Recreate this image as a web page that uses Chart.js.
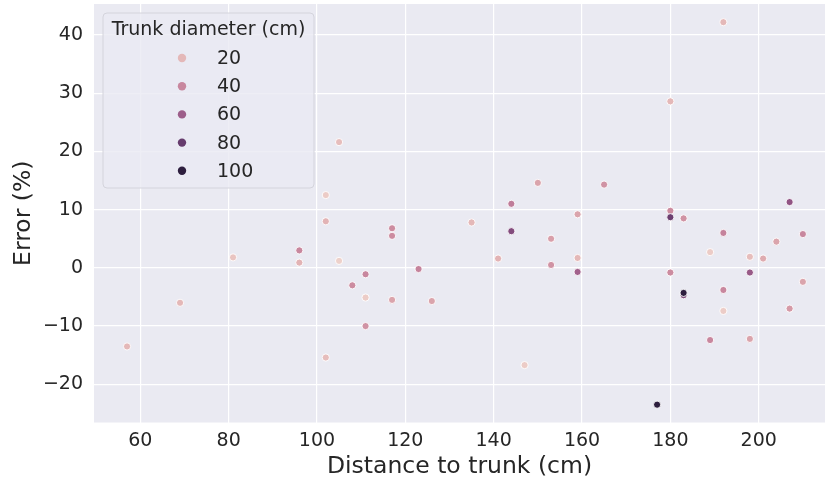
<!DOCTYPE html>
<html>
<head>
<meta charset="utf-8">
<script src="https://cdn.jsdelivr.net/npm/chart.js@4"></script>
<style>
  html, body { margin: 0; padding: 0; background: #fff; }
  #wrap { width: 825px; height: 483px; }
</style>
</head>
<body>
<div id="wrap"><canvas id="chart" width="825" height="483"></canvas></div>
<script>
// data
var distance = [57, 69, 81, 96, 96, 102, 102, 102, 105, 105, 108, 111, 111, 111, 117, 117, 117, 123, 126, 135,
                141, 144, 144, 147, 150, 153, 153, 159, 159, 159, 165, 177, 180, 180, 180, 180, 183, 183, 183, 189,
                189, 192, 192, 192, 192, 198, 198, 198, 201, 204, 207, 207, 210, 210];
var error    = [-13.5, -6, 1.8, 3, 0.9, 12.5, 8, -15.4, 21.6, 1.2, -3, -1.1, -5.1, -10, 6.8, 5.5, -5.5, -0.2, -5.7, 7.8,
                1.6, 11, 6.3, -16.7, 14.6, 5, 0.5, 9.2, 1.7, -0.7, 14.3, -23.5, 28.6, 9.8, 8.7, -0.8, 8.5, -4.7, -4.3, 2.7,
                -12.4, 42.2, 6, -3.8, -7.4, 1.9, -0.8, -12.2, 1.6, 4.5, 11.3, -7, 5.8, -2.4];
var diameter = [20, 20, 15, 40, 22, 12, 22, 18, 18, 10, 38, 40, 12, 35, 38, 38, 28, 42, 28, 20,
                22, 45, 70, 12, 28, 30, 35, 28, 20, 58, 35, 100, 20, 38, 78, 38, 35, 70, 100, 12,
                40, 20, 42, 40, 12, 18, 62, 28, 25, 28, 65, 32, 40, 28];

var xTicks = [60, 80, 100, 120, 140, 160, 180, 200];
var yTicks = [-20, -10, 0, 10, 20, 30, 40];
var legendTicks = [20, 40, 60, 80, 100];

var textColor = '#262626';
var fontFam = '"DejaVu Sans", sans-serif';

// seaborn default "ch:" cubehelix colormap
function cubehelix(x) {
    var a = 0.8 * x * (1 - x) / 2;
    var phi = 2 * Math.PI * (0.4 * x);
    var c = Math.cos(phi), s = Math.sin(phi);
    var r = x + a * (-0.14861 * c + 1.78277 * s);
    var g = x + a * (-0.29227 * c - 0.90649 * s);
    var b = x + a * (1.97294 * c);
    function cl(v) { return Math.round(Math.max(0, Math.min(1, v)) * 255); }
    return 'rgb(' + cl(r) + ',' + cl(g) + ',' + cl(b) + ')';
}
var dMin = Math.min.apply(null, diameter), dMax = Math.max.apply(null, diameter);
function hueColor(d) {
    var t = (d - dMin) / (dMax - dMin);
    return cubehelix(0.85 + (0.15 - 0.85) * t);
}

var points = distance.map(function (x, i) { return { x: x, y: error[i] }; });

// no extra label padding, the plot area is pinned
function noPad(s) {
    s.paddingTop = 0; s.paddingBottom = 0; s.paddingLeft = 0; s.paddingRight = 0;
}

var bgPlugin = {
    id: 'plotBg',
    beforeDraw: function (chart) {
        var a = chart.chartArea, ctx = chart.ctx;
        ctx.save();
        ctx.fillStyle = '#eaeaf2';
        ctx.fillRect(a.left, a.top, a.right - a.left, a.bottom - a.top);
        ctx.restore();
    }
};

var legendPlugin = {
    id: 'hueLegend',
    afterDraw: function (chart) {
        var ctx = chart.ctx;
        var x0 = 103, y0 = 13, w = 211, h = 175, r = 4;
        ctx.save();
        ctx.beginPath();
        ctx.roundRect(x0, y0, w, h, r);
        ctx.fillStyle = 'rgba(234,234,242,0.8)';
        ctx.fill();
        ctx.strokeStyle = '#d4d4dc';
        ctx.lineWidth = 1;
        ctx.stroke();
        ctx.fillStyle = textColor;
        ctx.font = '19px ' + fontFam;
        ctx.textBaseline = 'middle';
        ctx.textAlign = 'center';
        ctx.fillText('Trunk diameter (cm)', x0 + w / 2, 30);
        ctx.textAlign = 'left';
        legendTicks.forEach(function (v, i) {
            var cy = 58 + i * 28.2;
            ctx.beginPath();
            ctx.arc(182, cy, 4.2, 0, Math.PI * 2);
            ctx.fillStyle = hueColor(v);
            ctx.fill();
            ctx.fillStyle = textColor;
            ctx.fillText(String(v), 217, cy + 1);
        });
        ctx.restore();
    }
};

new Chart(document.getElementById('chart').getContext('2d'), {
    type: 'scatter',
    data: {
        datasets: [{
            data: points,
            pointBackgroundColor: diameter.map(hueColor),
            pointBorderColor: '#ffffff',
            pointBorderWidth: 0.9,
            pointRadius: 3.6,
            pointHoverRadius: 3.6
        }]
    },
    options: {
        responsive: false,
        animation: false,
        layout: { autoPadding: false, padding: { top: 4, right: 0, left: 0, bottom: 0 } },
        plugins: { legend: { display: false }, tooltip: { enabled: false } },
        scales: {
            x: {
                type: 'linear',
                min: 49.52,
                max: 215.01,
                afterBuildTicks: function (s) { s.ticks = xTicks.map(function (v) { return { value: v }; }); },
                afterFit: function (s) { s.height = 60.5; noPad(s); },
                border: { display: false },
                grid: { color: '#ffffff', lineWidth: 1.2, drawTicks: false },
                ticks: { color: textColor, font: { family: fontFam, size: 19 }, padding: 7, maxRotation: 0 },
                title: { display: true, text: 'Distance to trunk (cm)', color: textColor,
                         font: { family: fontFam, size: 23.5 }, padding: { top: 0, bottom: 2 } }
            },
            y: {
                type: 'linear',
                min: -26.56,
                max: 45.32,
                afterBuildTicks: function (s) { s.ticks = yTicks.map(function (v) { return { value: v }; }); },
                afterFit: function (s) { s.width = 94; noPad(s); },
                border: { display: false },
                grid: { color: '#ffffff', lineWidth: 1.2, drawTicks: false },
                ticks: { color: textColor, font: { family: fontFam, size: 19 }, padding: 11,
                         callback: function (v) { return String(v).replace('-', '\u2212'); } },
                title: { display: true, text: 'Error (%)', color: textColor,
                         font: { family: fontFam, size: 23.5 }, padding: { top: 10, bottom: 0 } }
            }
        }
    },
    plugins: [bgPlugin, legendPlugin]
});
</script>
</body>
</html>
